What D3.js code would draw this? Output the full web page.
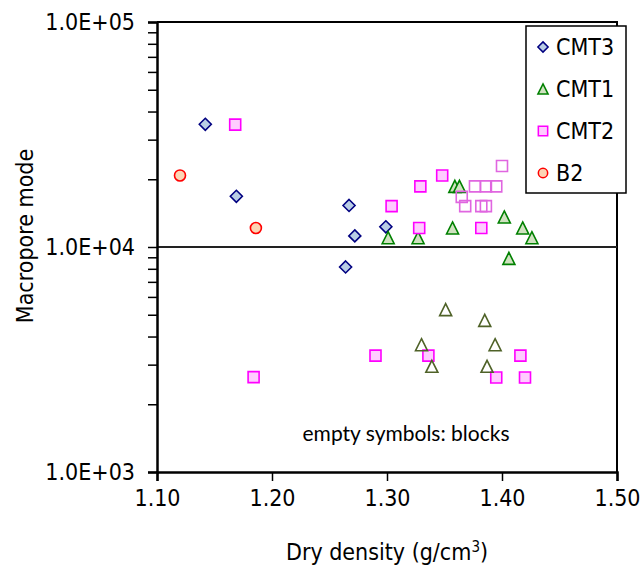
<!DOCTYPE html>
<html>
<head>
<meta charset="utf-8">
<script src="https://cdn.jsdelivr.net/npm/d3@7"></script>
<style>
  body { margin: 0; background: #fff; }
  text { font-family: "DejaVu Sans Condensed", "DejaVu Sans", sans-serif; font-stretch: condensed; fill: #000; }
  .note { font-family: Lato, "Open Sans", sans-serif; font-stretch: normal; }
</style>
</head>
<body>
<div id="chart"></div>
<script>
// Data
var cmt3Density = [1.142, 1.169, 1.267, 1.299, 1.272, 1.264];
var cmt3Mode = [35100, 16800, 15300, 12300, 11200, 8150];

var cmt1Density = [1.301, 1.327, 1.357, 1.359, 1.363, 1.402, 1.418, 1.426, 1.406];
var cmt1Mode = [11000, 11000, 12150, 18600, 18600, 13600, 12150, 11000, 8900];

var cmt2Density = [1.168, 1.304, 1.329, 1.348, 1.328, 1.382, 1.184, 1.290, 1.336, 1.416, 1.395, 1.420];
var cmt2Mode = [35000, 15200, 18600, 20800, 12150, 12150, 2640, 3290, 3290, 3290, 2630, 2630];

var b2Density = [1.120, 1.186];
var b2Mode = [20800, 12150];

// blocks (empty symbols)
var cmt1BlockDensity = [1.351, 1.385, 1.330, 1.394, 1.339, 1.387];
var cmt1BlockMode = [5270, 4720, 3680, 3680, 2950, 2950];

var cmt2BlockDensity = [1.400, 1.3765, 1.386, 1.395, 1.365, 1.368, 1.382, 1.386];
var cmt2BlockMode = [22900, 18600, 18600, 18600, 16700, 15200, 15200, 15200];

var xTicks = [1.1, 1.2, 1.3, 1.4, 1.5];
var yTicks = [1e3, 1e4, 1e5];
var legendNames = ["CMT3", "CMT1", "CMT2", "B2"];

var W = 644, H = 570;
var plotLeft = 157, plotRight = 617, plotTop = 22, plotBottom = 472;

var svg = d3.select("#chart").append("svg")
  .attr("width", W)
  .attr("height", H);

var x = d3.scaleLinear().domain([1.1, 1.5]).range([plotLeft, plotRight]);
var y = d3.scaleLog().domain([1e3, 1e5]).range([plotBottom, plotTop]);

function shape(type) {
  var s = 5.5;
  if (type == "diamond") return "M0," + (-s - 0.5) + "L" + (s + 0.5) + ",0L0," + (s + 0.5) + "L" + (-s - 0.5) + ",0Z";
  if (type == "square") return "M" + -s + "," + -s + "H" + s + "V" + s + "H" + -s + "Z";
  if (type == "triangle") return "M0,-6L6,6L-6,6Z";
  return "M" + s + ",0A" + s + "," + s + " 0 1,1 " + -s + ",0A" + s + "," + s + " 0 1,1 " + s + ",0Z";
}

var series = [
  { xs: cmt3Density, ys: cmt3Mode, type: "diamond", stroke: "#000080", fill: "#b9cde5" },
  { xs: cmt1Density, ys: cmt1Mode, type: "triangle", stroke: "#008000", fill: "#d0e2c0" },
  { xs: cmt2Density, ys: cmt2Mode, type: "square", stroke: "#ff00ff", fill: "#ffccff" },
  { xs: b2Density, ys: b2Mode, type: "circle", stroke: "#ff0000", fill: "#fcd5b5" },
  { xs: cmt1BlockDensity, ys: cmt1BlockMode, type: "triangle", stroke: "#4f6228", fill: "none" },
  { xs: cmt2BlockDensity, ys: cmt2BlockMode, type: "square", stroke: "#e066e0", fill: "none" }
];

// frame
svg.append("path")
  .attr("d", "M" + plotLeft + "," + plotTop + "H" + plotRight + "V" + plotBottom)
  .attr("fill", "none")
  .attr("stroke", "#000")
  .attr("stroke-width", 2);

// gridline at 1.0E+04
svg.append("line")
  .attr("x1", plotLeft).attr("x2", plotRight)
  .attr("y1", y(1e4)).attr("y2", y(1e4))
  .attr("stroke", "#222")
  .attr("stroke-width", 2);

// minor ticks on log axis
var minor = [];
[1e3, 1e4].forEach(function(d) {
  for (var k = 2; k <= 9; k++) minor.push(d * k);
});

svg.append("g")
  .attr("transform", "translate(" + plotLeft + ",0)")
  .call(d3.axisLeft(y).tickValues(minor).tickFormat("").tickSize(9))
  .call(function(g) { g.select(".domain").remove(); })
  .selectAll("line").attr("stroke", "#000").attr("stroke-width", 1.5);

var yAxis = svg.append("g")
  .attr("transform", "translate(" + plotLeft + ",0)")
  .call(d3.axisLeft(y).tickValues(yTicks)
    .tickFormat(function(d) { return d.toExponential(1).toUpperCase().replace("E+", "E+0"); })
    .tickSize(9).tickPadding(13));
yAxis.select(".domain").attr("stroke-width", 2.5);
yAxis.selectAll("line").attr("stroke-width", 1.5);
yAxis.selectAll("text")
  .attr("font-size", 23)
  .attr("font-family", null);

var xAxis = svg.append("g")
  .attr("transform", "translate(0," + plotBottom + ")")
  .call(d3.axisBottom(x).tickValues(xTicks).tickFormat(d3.format(".2f")).tickSize(9).tickPadding(9));
xAxis.select(".domain").attr("stroke-width", 2.5);
xAxis.selectAll("line").attr("stroke-width", 1.5);
xAxis.selectAll("text")
  .attr("font-size", 23)
  .attr("font-family", null);

// points
series.forEach(function(s) {
  svg.append("g").selectAll("path")
    .data(s.xs)
    .enter().append("path")
    .attr("d", shape(s.type))
    .attr("transform", function(d, i) { return "translate(" + x(d) + "," + y(s.ys[i]) + ")"; })
    .attr("fill", s.fill)
    .attr("stroke", s.stroke)
    .attr("stroke-width", 1.6);
});

// axis titles
svg.append("text")
  .attr("x", (plotLeft + plotRight) / 2)
  .attr("y", 560)
  .attr("text-anchor", "middle")
  .attr("font-size", 23)
  .html('Dry density (g/cm<tspan dy="-8" font-size="15">3</tspan><tspan dy="8">)</tspan>');

svg.append("text")
  .attr("transform", "translate(33,236) rotate(-90)")
  .attr("text-anchor", "middle")
  .attr("font-size", 23)
  .text("Macropore mode");

svg.append("text")
  .attr("class", "note")
  .attr("x", 406)
  .attr("y", 441)
  .attr("text-anchor", "middle")
  .attr("font-size", 21)
  .text("empty symbols: blocks");

// legend
var legend = svg.append("g");
legend.append("rect")
  .attr("x", 526).attr("y", 26)
  .attr("width", 100).attr("height", 167)
  .attr("fill", "#fff")
  .attr("stroke", "#000")
  .attr("stroke-width", 1.5);

var legendY = d3.scalePoint().domain(legendNames).range([47, 173]);
legendNames.forEach(function(name, i) {
  var s = series[i];
  legend.append("path")
    .attr("d", shape(s.type))
    .attr("transform", "translate(543," + legendY(name) + ") scale(0.85)")
    .attr("fill", s.fill)
    .attr("stroke", s.stroke)
    .attr("stroke-width", 1.8);
  legend.append("text")
    .attr("x", 556)
    .attr("y", legendY(name))
    .attr("dy", "0.36em")
    .attr("font-size", 23)
    .text(name);
});
</script>
</body>
</html>
